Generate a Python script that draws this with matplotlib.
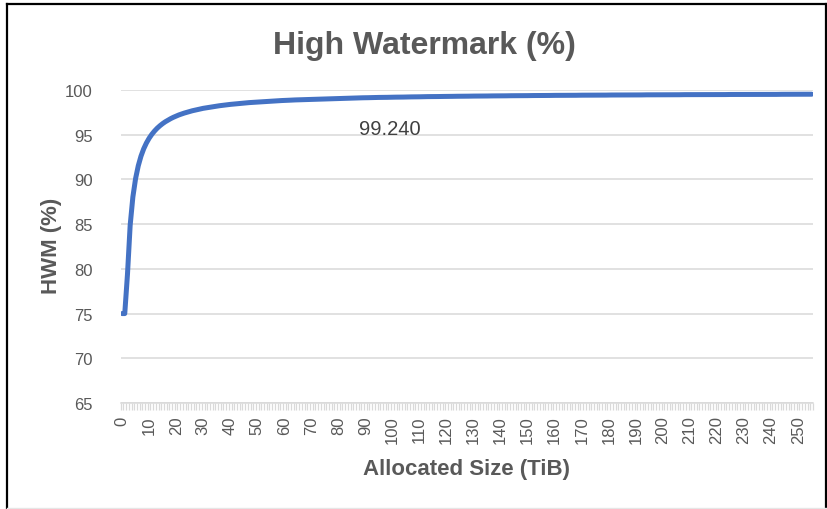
import matplotlib
matplotlib.use("Agg")
import matplotlib.pyplot as plt
from matplotlib.lines import Line2D
import numpy as np

# ---- data ----
sizes_tib = list(range(0, 256))
hwm_pct = [
    75.00, 75.00, 79.37, 84.88, 88.04, 90.09, 91.53, 92.60, 93.42, 94.07,
    94.60, 95.04, 95.41, 95.73, 96.00, 96.24, 96.45, 96.63, 96.80, 96.95,
    97.08, 97.21, 97.32, 97.42, 97.51, 97.60, 97.68, 97.75, 97.82, 97.89,
    97.95, 98.00, 98.06, 98.11, 98.15, 98.20, 98.24, 98.28, 98.32, 98.35,
    98.39, 98.42, 98.45, 98.48, 98.51, 98.54, 98.56, 98.59, 98.61, 98.63,
    98.66, 98.68, 98.70, 98.72, 98.73, 98.75, 98.77, 98.79, 98.80, 98.82,
    98.83, 98.85, 98.86, 98.88, 98.89, 98.90, 98.92, 98.93, 98.94, 98.95,
    98.96, 98.97, 98.98, 98.99, 99.00, 99.01, 99.02, 99.03, 99.04, 99.05,
    99.06, 99.07, 99.08, 99.08, 99.09, 99.10, 99.11, 99.11, 99.12, 99.13,
    99.13, 99.14, 99.15, 99.15, 99.16, 99.17, 99.17, 99.18, 99.18, 99.19,
    99.19, 99.20, 99.20, 99.21, 99.21, 99.22, 99.22, 99.23, 99.23, 99.24,
    99.24, 99.25, 99.25, 99.26, 99.26, 99.26, 99.27, 99.27, 99.28, 99.28,
    99.28, 99.29, 99.29, 99.30, 99.30, 99.30, 99.31, 99.31, 99.31, 99.32,
    99.32, 99.32, 99.33, 99.33, 99.33, 99.33, 99.34, 99.34, 99.34, 99.35,
    99.35, 99.35, 99.35, 99.36, 99.36, 99.36, 99.37, 99.37, 99.37, 99.37,
    99.37, 99.38, 99.38, 99.38, 99.38, 99.39, 99.39, 99.39, 99.39, 99.40,
    99.40, 99.40, 99.40, 99.40, 99.41, 99.41, 99.41, 99.41, 99.41, 99.42,
    99.42, 99.42, 99.42, 99.42, 99.43, 99.43, 99.43, 99.43, 99.43, 99.43,
    99.44, 99.44, 99.44, 99.44, 99.44, 99.44, 99.45, 99.45, 99.45, 99.45,
    99.45, 99.45, 99.45, 99.46, 99.46, 99.46, 99.46, 99.46, 99.46, 99.47,
    99.47, 99.47, 99.47, 99.47, 99.47, 99.47, 99.47, 99.48, 99.48, 99.48,
    99.48, 99.48, 99.48, 99.48, 99.48, 99.49, 99.49, 99.49, 99.49, 99.49,
    99.49, 99.49, 99.49, 99.49, 99.50, 99.50, 99.50, 99.50, 99.50, 99.50,
    99.50, 99.50, 99.50, 99.51, 99.51, 99.51, 99.51, 99.51, 99.51, 99.51,
    99.51, 99.51, 99.51, 99.52, 99.52, 99.52, 99.52, 99.52, 99.52, 99.52,
    99.52, 99.52, 99.52, 99.52, 99.52, 99.53,
]
x_tick_labels = [str(v) for v in range(0, 256, 10)]
y_ticks = [65, 70, 75, 80, 85, 90, 95, 100]
annotation_text = "99.240"
annotation_pos = (99, 95.65)

title = "High Watermark (%)"
x_title = "Allocated Size (TiB)"
y_title = "HWM (%)"

# ---- style ----
TXT = "#595959"
GRID = "#d9d9d9"
LINE = "#4472C4"
plt.rcParams["font.family"] = ["Liberation Sans", "DejaVu Sans"]

W, H = 828, 510
fig = plt.figure(figsize=(W / 100, H / 100), dpi=100)
fig.patch.set_facecolor("white")

def fx(px):
    return px / W

def fy(py):
    return 1 - py / H

left, right, top, bottom = 120.7, 813, 91, 404
ax = fig.add_axes([fx(left), fy(bottom), fx(right) - fx(left), fy(top) - fy(bottom)])

n = len(sizes_tib)
xpos = np.arange(n)
ax.plot(xpos, hwm_pct, color=LINE, lw=3.6, solid_capstyle="round",
        solid_joinstyle="round", zorder=3)

ax.set_xlim(-0.5, n - 0.5)
ax.set_ylim(65, 100)
ax.set_yticks(y_ticks)
ax.set_yticklabels([str(v) for v in y_ticks])
ax.yaxis.grid(True, color=GRID, lw=1.1)
ax.set_axisbelow(True)

major_pos = [sizes_tib.index(int(s)) for s in x_tick_labels]
ax.set_xticks(major_pos)
ax.set_xticklabels(x_tick_labels, rotation=90, va="top", ha="center")
ax.set_xticks(np.arange(-0.5, n, 1.0), minor=True)
ax.tick_params(axis="x", which="major", length=0, pad=9, labelsize=12,
               labelcolor=TXT)
ax.tick_params(axis="x", which="minor", length=5, width=0.9, color=GRID,
               direction="out")
ax.tick_params(axis="y", length=0, pad=20, labelsize=12, labelcolor=TXT)
for lab in ax.get_yticklabels():
    lab.set_horizontalalignment("right")

for s in ["top", "right", "left"]:
    ax.spines[s].set_visible(False)
ax.spines["bottom"].set_color(GRID)
ax.spines["bottom"].set_linewidth(1.1)

ax.text(annotation_pos[0], annotation_pos[1], annotation_text, color="#404040",
        fontsize=14.5, ha="center", va="center")

fig.text(fx(424), fy(46), title, color=TXT, fontsize=23, fontweight="bold",
         ha="center", va="center")
fig.text(fx(467), fy(470), x_title, color=TXT, fontsize=16,
         fontweight="bold", ha="center", va="center")
fig.text(fx(52), fy(246), y_title, color=TXT, fontsize=16,
         fontweight="bold", ha="center", va="center", rotation=90)

# outer frame (left, top, right dark; bottom faint)
def fline(x0, y0, x1, y1, color, lw):
    fig.add_artist(Line2D([fx(x0), fx(x1)], [fy(y0), fy(y1)],
                          transform=fig.transFigure, color=color, lw=lw))

fline(7, 5, 7, 510, "black", 1.6)
fline(7, 5, 826, 5, "black", 1.6)
fline(826, 5, 826, 510, "black", 1.6)
fline(7, 508.5, 826, 508.5, "#e6e6e6", 1.0)

fig.savefig("out.png", dpi=100, facecolor="white")
